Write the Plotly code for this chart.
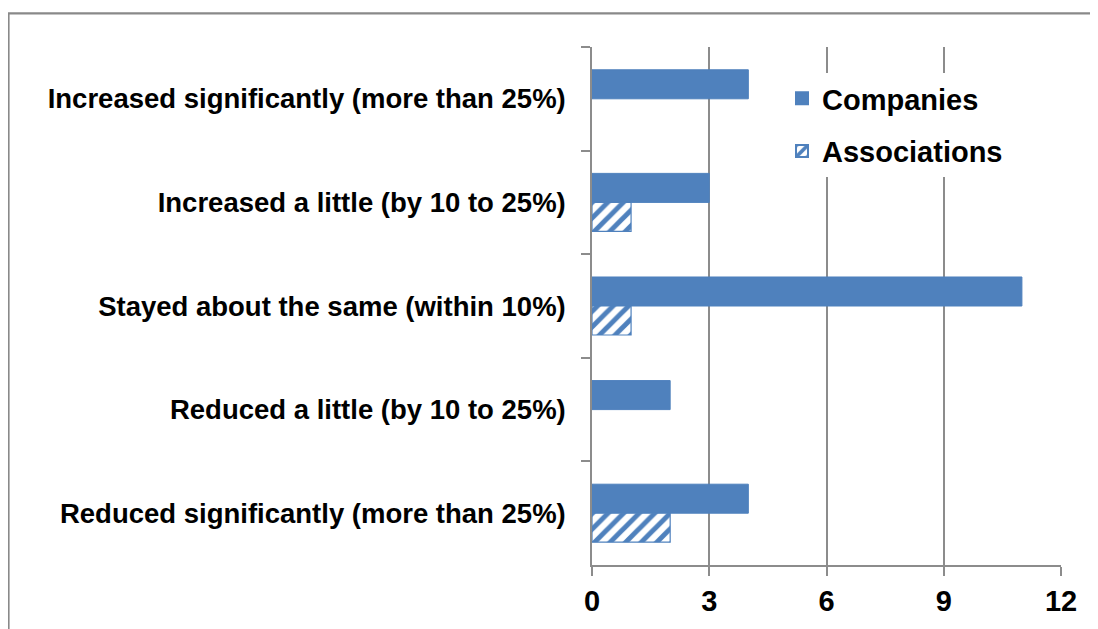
import plotly.graph_objects as go

categories = [
    "Increased significantly (more than 25%)",
    "Increased a little (by 10 to 25%)",
    "Stayed about the same (within 10%)",
    "Reduced a little (by 10 to 25%)",
    "Reduced significantly (more than 25%)",
]
companies = [4, 3, 11, 2, 4]
associations = [0, 1, 1, 0, 2]
x_ticks = [0, 3, 6, 9, 12]

BLUE = "#4F81BD"
GREY = "#8C8C8C"
FONT = "Liberation Sans, Arial, sans-serif"

# page is offset by 8px body margin; all pixel positions below are page coords
OFF = 8
W, H = 1098 - OFF, 629 - OFF
L = 592 - OFF
T = 47 - OFF
R = W - (1061 - OFF)
B = H - (565 - OFF)
pw, ph = W - L - R, H - T - B

def px_x(p):
    return (p - OFF - L) / pw

def px_y(p):
    return (H - B - (p - OFF)) / ph

fig = go.Figure()
fig.add_trace(go.Bar(
    y=categories, x=companies, orientation="h", name="Companies",
    legendgroup="c",
    marker=dict(color=BLUE, line=dict(color=BLUE, width=1)),
))
fig.add_trace(go.Bar(
    y=categories, x=associations, orientation="h", name="Associations",
    legendgroup="a",
    marker=dict(color="white",
                line=dict(color=BLUE, width=[0 if v == 0 else 1.2 for v in associations]),
                pattern=dict(shape="/", fgcolor=BLUE, bgcolor="white",
                             size=11, solidity=0.45, fillmode="replace")),
))

fig.update_layout(
    width=W, height=H,
    margin=dict(l=L, r=R, t=T, b=B),
    paper_bgcolor="white", plot_bgcolor="white",
    barmode="group", bargap=0.44, bargroupgap=0,
    font=dict(family=FONT, color="black"),
    showlegend=True,
    legend=dict(
        x=px_x(782), y=px_y(125), xanchor="left", yanchor="middle",
        bgcolor="white", font=dict(size=29, family=FONT, weight="bold"),
        traceorder="grouped", tracegroupgap=12, itemsizing="constant",
    ),
    xaxis=dict(
        range=[0, 12], tickvals=x_ticks, ticktext=[str(v) for v in x_ticks],
        showgrid=True, gridcolor=GREY, gridwidth=1.5,
        showline=True, linecolor=GREY, linewidth=1.5,
        ticks="outside", ticklen=9, tickcolor=GREY, tickwidth=1.5,
        tickfont=dict(size=29, family=FONT, weight="bold"),
        zeroline=False,
    ),
    yaxis=dict(
        autorange="reversed", type="category",
        showline=True, linecolor=GREY, linewidth=1.5,
        ticks="outside", ticklen=9, tickcolor=GREY, tickwidth=1.5,
        tickson="boundaries",
        tickfont=dict(size=27.5, family=FONT, weight="bold"),
        ticklabelstandoff=19,
        showgrid=False,
    ),
    shapes=[dict(
        type="rect", xref="paper", yref="paper",
        x0=px_x(8.5), x1=px_x(1120), y0=px_y(660), y1=px_y(13.3),
        line=dict(color="#898989", width=2.2), fillcolor="rgba(0,0,0,0)",
        layer="below",
    )],
)

fig.write_html("out.html")
